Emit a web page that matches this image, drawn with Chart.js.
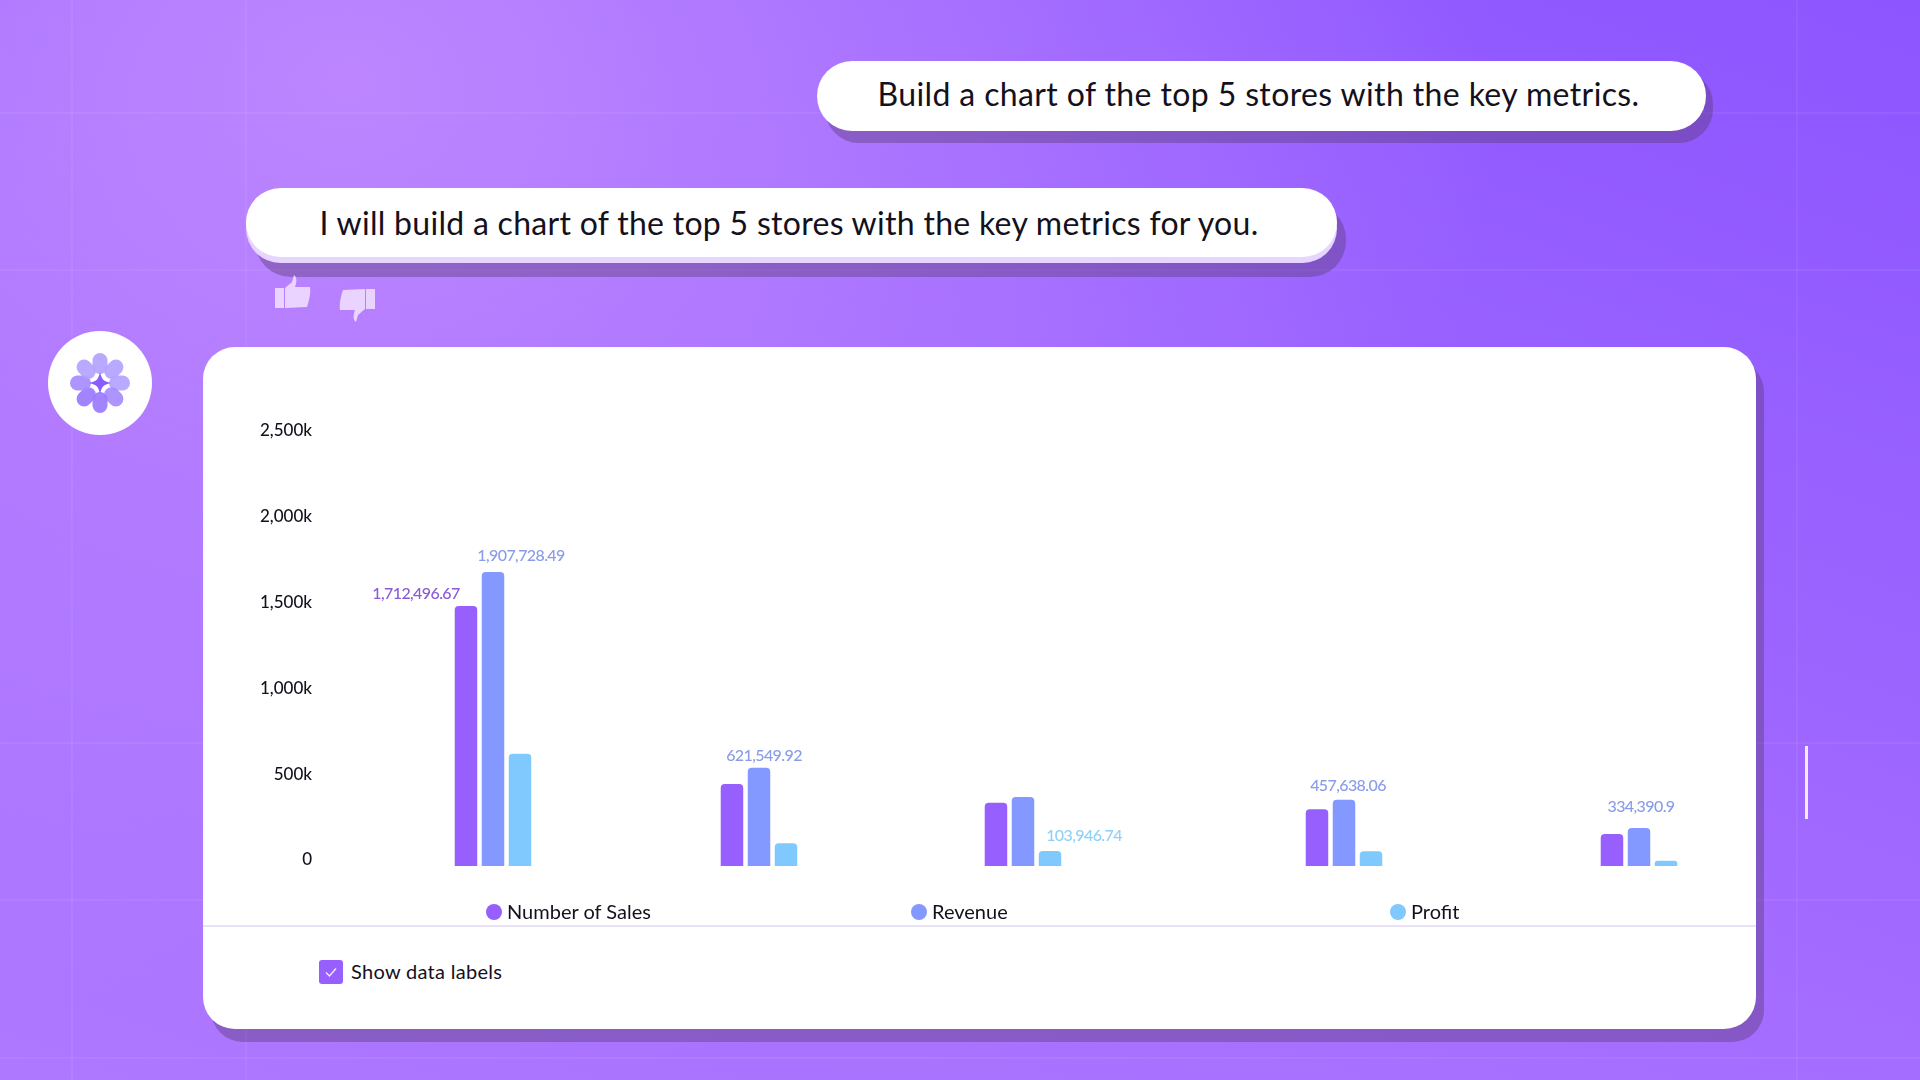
<!DOCTYPE html>
<html>
<head>
<meta charset="utf-8">
<script src="https://cdn.jsdelivr.net/npm/chart.js@4"></script>
<style>
  html, body { margin: 0; padding: 0; }
  body { width: 1920px; height: 1080px; position: relative; overflow: hidden; font-family: Lato, sans-serif; color: #14101c;
    background:
      radial-gradient(ellipse 1150px 950px at 350px 80px, rgba(192,138,255,.9), rgba(192,138,255,0)),
      linear-gradient(20deg, #ae78ff 0%, #a56dff 39%, #8c55ff 100%); }
  .abs { position: absolute; }
  .gl { position: absolute; background: rgba(255,255,255,.06); }
  .pill { position: absolute; background: #fff; border-radius: 36px; display: flex; align-items: center; justify-content: center; font-size: 32px; white-space: nowrap; box-sizing: border-box; }
  .shade { background: rgba(90,60,120,.42); }
  #card { position: absolute; left: 203px; top: 347px; width: 1553px; height: 682px; background: #fff; border-radius: 32px; box-shadow: 8px 13px 0 rgba(90,60,120,.42); }
  #chartBox { position: absolute; left: 203px; top: 347px; width: 1553px; height: 579px; }
  #divider { position: absolute; left: 203px; top: 925px; width: 1553px; height: 2px; background: #e9e1f6; }
  .legendItem { position: absolute; top: 899px; height: 24px; font-size: 20px; line-height: 24px; white-space: nowrap; }
  .legendItem i { position: absolute; left: 0; top: 5px; width: 16px; height: 16px; border-radius: 50%; }
  .legendItem span { position: absolute; left: 21px; }
  #check { position: absolute; left: 319px; top: 960px; width: 24px; height: 24px; background: #965ffe; border-radius: 3px; }
  #checkText { position: absolute; left: 351px; top: 958px; font-size: 20px; line-height: 26px; letter-spacing: .3px; white-space: nowrap; }
</style>
</head>
<body>
<div class="gl" style="left:71px;top:0;width:2px;height:1080px"></div>
<div class="gl" style="left:245px;top:0;width:2px;height:1080px"></div>
<div class="gl" style="left:1796px;top:0;width:2px;height:1080px"></div>
<div class="gl" style="left:0;top:112px;width:1920px;height:2px"></div>
<div class="gl" style="left:0;top:269px;width:1920px;height:2px"></div>
<div class="gl" style="left:0;top:742px;width:1920px;height:2px"></div>
<div class="gl" style="left:0;top:899px;width:1920px;height:2px"></div>
<div class="gl" style="left:0;top:1057px;width:1920px;height:2px"></div>

<div class="pill shade" style="left:825px;top:70px;width:888px;height:73px;border-radius:34px"></div>
<div class="pill" style="left:817px;top:61px;width:889px;height:70px;letter-spacing:.38px;padding:0 6px 5px 0">Build a chart of the top 5 stores with the key metrics.</div>

<div class="pill shade" style="left:255px;top:203px;width:1091px;height:74px"></div>
<div class="pill" style="left:246px;top:194px;width:1091px;height:69px;background:#e6d5ff"></div>
<div class="pill" style="left:246px;top:188px;width:1091px;height:69px;letter-spacing:.29px;padding-right:5px">I will build a chart of the top 5 stores with the key metrics for you.</div>

<svg class="abs" style="left:275px;top:275px" width="36" height="35" viewBox="0 0 36 35"><path fill="#ead4ff" d="M0 13h9v20H0zM10 13l7-6 2-7c3 2 3 7 1 12h15c1 6-1 14-3 20l-22 1z"/></svg>
<svg class="abs" style="left:339px;top:287px" width="36" height="35" viewBox="0 0 36 35"><g transform="rotate(180 18 17.5)"><path fill="#ead4ff" d="M0 13h9v20H0zM10 13l7-6 2-7c3 2 3 7 1 12h15c1 6-1 14-3 20l-22 1z"/></g></svg>

<svg class="abs" id="logo" style="left:47px;top:330px" width="106" height="106" viewBox="-53 -53 106 106">
  <circle r="52" fill="#fff"/>
  <g id="petals"></g>
  <path fill="#8a5cff" d="M0-11C2-3 3-2 11 0 3 2 2 3 0 11-2 3-3 2-11 0-3-2-2-3 0-11z"/>
</svg>

<div id="card"></div>
<div id="chartBox"><canvas id="chart"></canvas></div>
<div id="divider"></div>
<div id="legend"></div>
<div id="check"><svg width="24" height="24" viewBox="0 0 24 24"><path d="M7 12.5l3.5 3.5L17 8.5" fill="none" stroke="#f1e6ff" stroke-width="1.5"/></svg></div>
<div id="checkText">Show data labels</div>
<div class="abs" style="left:1805px;top:746px;width:3px;height:73px;background:#f4eaff"></div>

<script>
const stores = ['Store 1', 'Store 2', 'Store 3', 'Store 4', 'Store 5'];
// stores are not evenly spaced in the picture, so x is a linear scale
const storeSlots = [170, 436, 700, 1021, 1316];
const numberOfSales = [1515000, 478000, 369000, 330000, 186000];
const revenue = [1713000, 573000, 402000, 386000, 221000];
const profit = [654000, 132000, 87000, 86000, 31000];
const yTicks = [0, 500000, 1000000, 1500000, 2000000, 2500000];

// printed labels, only some bars carry one
const salesLabels = ['1,712,496.67', null, null, null, null];
const revenueLabels = ['1,907,728.49', '621,549.92', null, '457,638.06', '334,390.9'];
const profitLabels = [null, null, '103,946.74', null, null];

const purple = '#965ffe', blue = '#8499ff', cyan = '#80c9ff';

const toPoints = values => values.map((v, i) => ({ x: storeSlots[i], y: v }));

const dataLabels = {
  id: 'dataLabels',
  afterDatasetsDraw(chart) {
    const { ctx } = chart;
    ctx.save();
    ctx.font = '500 16px Lato';
    ctx.letterSpacing = '-0.6px';
    ctx.textAlign = 'center';
    ctx.textBaseline = 'middle';
    chart.data.datasets.forEach((ds, d) => {
      chart.getDatasetMeta(d).data.forEach((bar, i) => {
        if (!ds.printed[i]) return;
        const off = ds.printedOffset[i];
        ctx.fillStyle = ds.printedColor;
        ctx.fillText(ds.printed[i], bar.x + off[0], bar.y + off[1]);
      });
    });
    ctx.restore();
  }
};

const barStyle = { borderRadius: { topLeft: 4, topRight: 4 }, borderSkipped: 'bottom', categoryPercentage: 0.307, barPercentage: 0.833 };

const chart = new Chart(document.getElementById('chart'), {
  type: 'bar',
  data: {
    datasets: [
      { label: 'Number of Sales', data: toPoints(numberOfSales), backgroundColor: purple, printed: salesLabels, printedColor: '#8a5ad8', printedOffset: [[-50, -12]], ...barStyle },
      { label: 'Revenue', data: toPoints(revenue), backgroundColor: blue, printed: revenueLabels, printedColor: '#8a9ce8', printedOffset: [[28, -16], [5, -12], null, [4, -14], [2, -21]], ...barStyle },
      { label: 'Profit', data: toPoints(profit), backgroundColor: cyan, printed: profitLabels, printedColor: '#8fd0f7', printedOffset: [null, null, [34, -15]], ...barStyle }
    ]
  },
  plugins: [dataLabels],
  options: {
    responsive: true,
    maintainAspectRatio: false,
    animation: false,
    layout: { padding: { top: 90, bottom: 60, right: 76 } },
    plugins: { legend: { display: false }, tooltip: { enabled: false } },
    scales: {
      // one big step, hidden ticks would otherwise shrink the bar width
      x: { type: 'linear', display: false, offset: false, min: 0, max: 1357, ticks: { stepSize: 1357 } },
      y: {
        min: 0, max: 2500000,
        grid: { display: false },
        border: { display: false },
        afterFit: s => { s.width = 120; },
        afterBuildTicks: s => { s.ticks = yTicks.map(value => ({ value })); },
        ticks: {
          padding: 3,
          font: { family: 'Lato', size: 17, weight: '500', lineHeight: '12px' }, color: '#14101c',
          // empty second line lifts the label above its tick, as in the picture
          callback: v => [v === 0 ? '0' : (v / 1000).toLocaleString('en-US') + 'k', '']
        }
      }
    }
  }
});

// legend sits on uneven spots, so it is html built from the datasets
const legendX = [486, 911, 1390];
document.getElementById('legend').innerHTML = chart.data.datasets.map((ds, i) =>
  `<div class="legendItem" style="left:${legendX[i]}px"><i style="background:${ds.backgroundColor}"></i><span>${ds.label}</span></div>`
).join('');

// logo petals
const petalFill = ['#b3a2ff', '#b3a2ff', '#b3a2ff', '#a68bff', '#9a7aff', '#9a7aff', '#a68bff', '#b3a2ff'];
document.getElementById('petals').innerHTML = petalFill.map((c, i) =>
  `<rect x="-7.5" y="-30" width="15" height="21" rx="7.5" fill="${c}" opacity=".92" transform="rotate(${i * 45})"/>`
).join('');
</script>
</body>
</html>
